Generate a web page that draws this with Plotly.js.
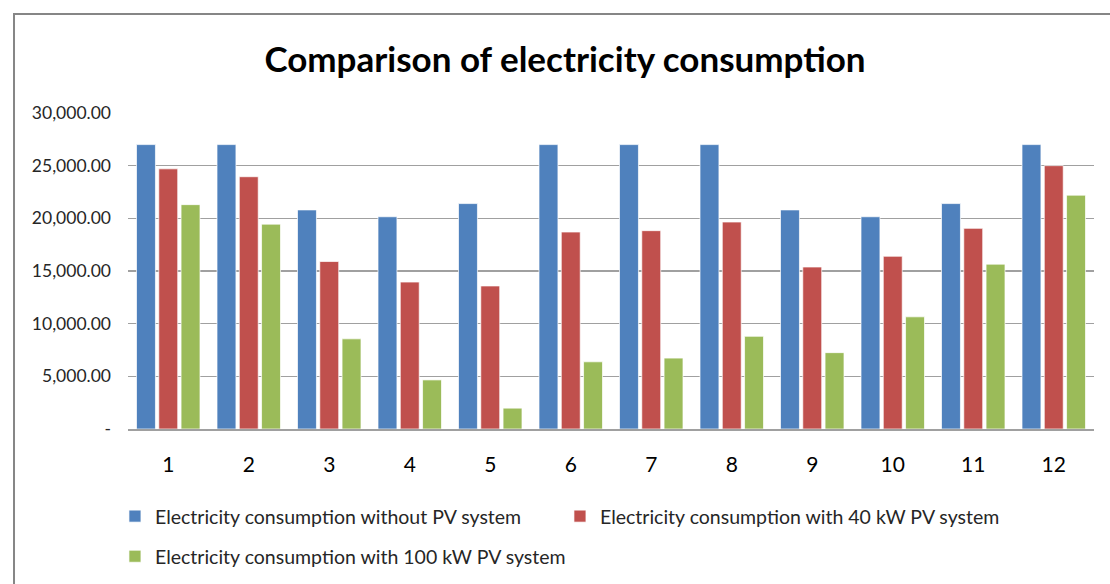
<!DOCTYPE html>
<html>
<head>
<meta charset="utf-8">
<script src="https://cdn.plot.ly/plotly-3.0.1.min.js"></script>
<style>
html,body{margin:0;padding:0;background:#fff;}
#chart{width:1110px;height:584px;}
</style>
</head>
<body>
<div id="chart"></div>
<script>
const months = ['1','2','3','4','5','6','7','8','9','10','11','12'];
const withoutPV = [27000, 27000, 20800, 20150, 21400, 27000, 27000, 27000, 20800, 20150, 21400, 27000];
const with40kW = [24700, 23950, 15900, 13950, 13580, 18700, 18830, 19650, 15380, 16400, 19050, 25000];
const with100kW = [21300, 19450, 8560, 4660, 1980, 6380, 6730, 8800, 7250, 10650, 15650, 22200];
const seriesNames = ['Electricity consumption without PV system',
                     'Electricity consumption with 40 kW PV system',
                     'Electricity consumption with 100 kW PV system'];
const yTickVals = [0, 5000, 10000, 15000, 20000, 25000, 30000];
const yTickText = ['-', '5,000.00', '10,000.00', '15,000.00', '20,000.00', '25,000.00', '30,000.00'];

const colors = ['#4F81BD', '#C0504D', '#9BBB59'];
const legendRefs = ['legend', 'legend', 'legend2'];
const font = 'Lato, "Open Sans", sans-serif';

const traces = [withoutPV, with40kW, with100kW].map((vals, i) => ({
  type: 'bar',
  x: months,
  y: vals,
  name: seriesNames[i],
  legend: legendRefs[i],
  marker: {color: colors[i], line: {color: 'rgba(255,255,255,0.7)', width: 1}},
  hoverinfo: 'y'
}));

const legendFont = {family: font, size: 19.5, color: '#262626'};

const layout = {
  width: 1110,
  height: 584,
  paper_bgcolor: '#ffffff',
  plot_bgcolor: '#ffffff',
  margin: {l: 128, r: 16, t: 113, b: 155, autoexpand: false},
  title: {
    text: '<b>Comparison of electricity consumption</b>',
    font: {family: font, size: 35, color: '#000000'},
    x: 0.509, xanchor: 'center', xref: 'container',
    y: 0.897, yanchor: 'middle'
  },
  barmode: 'group',
  bargap: 0.17,
  bargroupgap: 0.15,
  xaxis: {
    type: 'category',
    tickfont: {family: font, size: 21, color: '#000000'},
    showline: true, linecolor: '#A0A0A0', linewidth: 1.5,
    ticks: '', ticklabelstandoff: 16,
    showgrid: false, zeroline: false
  },
  yaxis: {
    range: [0, 30000],
    tickvals: yTickVals,
    ticktext: yTickText,
    tickfont: {family: font, size: 17.5, color: '#262626'},
    showgrid: true, gridcolor: '#A0A0A0', gridwidth: 1.5,
    zeroline: false, showline: false, ticks: '',
    ticklabelstandoff: 16
  },
  legend: {
    orientation: 'h',
    x: -0.0135, xanchor: 'left',
    y: -0.215, yanchor: 'top',
    font: legendFont,
    entrywidth: 400, entrywidthmode: 'pixels',
    itemwidth: 30
  },
  legend2: {
    orientation: 'h',
    x: -0.0135, xanchor: 'left',
    y: -0.342, yanchor: 'top',
    font: legendFont,
    itemwidth: 30
  },
  shapes: [{
    type: 'rect', xref: 'paper', yref: 'paper',
    x0: -0.118, x1: 1.2, y0: -0.6, y1: 1.313,
    line: {color: '#868686', width: 2}, fillcolor: 'rgba(0,0,0,0)', layer: 'below'
  }],
  showlegend: true
};

Plotly.newPlot('chart', traces, layout, {displayModeBar: false, staticPlot: true});
</script>
</body>
</html>
